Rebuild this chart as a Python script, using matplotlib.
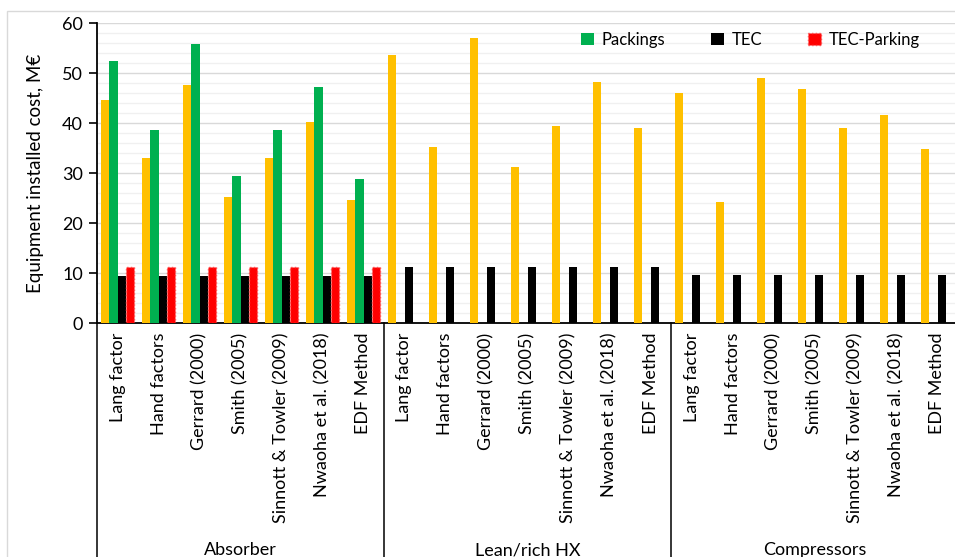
import numpy as np
import matplotlib
matplotlib.use('Agg')
import matplotlib.pyplot as plt
from matplotlib.ticker import MultipleLocator
from matplotlib.patches import Rectangle
from matplotlib.transforms import blended_transform_factory

plt.rcParams['font.family'] = ['Lato', 'DejaVu Sans']

methods = ['Lang factor', 'Hand factors', 'Gerrard (2000)', 'Smith (2005)',
           'Sinnott & Towler (2009)', 'Nwaoha et al. (2018)', 'EDF Method']
groups = ['Absorber', 'Lean/rich HX', 'Compressors']

# equipment cost per method, one list per equipment group (M€)
base_absorber = [44.7, 33.0, 47.7, 25.3, 33.0, 40.3, 24.6]
base_hx = [53.6, 35.2, 57.1, 31.3, 39.5, 48.3, 39.1]
base_comp = [46.1, 24.3, 49.1, 46.8, 39.0, 41.6, 34.9]
packings = [52.5, 38.7, 55.9, 29.5, 38.7, 47.3, 28.8]
tec = [9.5, 11.3, 9.7]
tec_parking = [11.2]

n = len(methods)
base = base_absorber + base_hx + base_comp
pack = packings + [np.nan] * (2 * n)
tec_all = [tec[0]] * n + [tec[1]] * n + [tec[2]] * n
park_all = [tec_parking[0]] * n + [np.nan] * (2 * n)

fig = plt.figure(figsize=(9.55, 5.57), dpi=100)
W, H = 955.0, 557.0
ax = fig.add_axes([97 / W, 1 - 323 / H, 861 / W, 300 / H])

x = np.arange(3 * n)
bw = 0.2
ax.bar(x - 1.5 * bw, base, bw, color='#FFC000', label='_nolegend_', zorder=3)
ax.bar(x - 0.5 * bw, pack, bw, color='#00B050', label='Packings', zorder=3)
ax.bar(x + 0.5 * bw, tec_all, bw, color='#000000', label='TEC', zorder=3)
ax.bar(x + 1.5 * bw, park_all, bw, color='#FF0000', edgecolor='#FF5050',
       linestyle=':', linewidth=1, label='TEC-Parking', zorder=3)

ax.set_xlim(-0.5, 3 * n - 0.5)
ax.set_ylim(0, 60)
ax.yaxis.set_major_locator(MultipleLocator(10))
ax.yaxis.set_minor_locator(MultipleLocator(2))
ax.grid(which='major', axis='y', color='#d9d9d9', linewidth=1, zorder=0)
ax.grid(which='minor', axis='y', color='#f0f0f0', linewidth=1, zorder=0)
ax.tick_params(axis='y', which='major', length=6, width=1.2, labelsize=13, pad=4)
ax.tick_params(axis='y', which='minor', length=0)
ax.set_axisbelow(True)

for side in ['top', 'right']:
    ax.spines[side].set_visible(False)
for side in ['left', 'bottom']:
    ax.spines[side].set_linewidth(1.3)

ax.set_xticks(x)
ax.set_xticklabels(methods * 3, rotation=90, va='top', ha='center', fontsize=13)
ax.tick_params(axis='x', length=0, pad=7)

ax.set_ylabel('Equipment installed cost, M\u20ac', fontsize=13.5, labelpad=13)

# multi-level axis: separators and group names below the method labels
trans = blended_transform_factory(ax.transData, fig.transFigure)
for b in [-0.5, n - 0.5, 2 * n - 0.5, 3 * n - 0.5]:
    ax.plot([b, b], [1 - 323 / H, 0], color='black', linewidth=1.1,
            transform=trans, clip_on=False)
for i, g in enumerate(groups):
    ax.text(i * n + (n - 1) / 2, 7 / H, g, transform=trans, ha='center',
            va='center', fontsize=13)

leg = ax.legend(loc='center left', bbox_to_anchor=(581 / W, 1 - 40 / H),
                bbox_transform=fig.transFigure, ncol=3, frameon=False,
                fontsize=12, handlelength=0.75, handleheight=0.75,
                columnspacing=2.8, handletextpad=0.45, borderpad=0,
                borderaxespad=0)

# light chart frame
fig.add_artist(Rectangle((7 / W, -0.1), 1.1, 1 - 11 / H + 0.1,
                         transform=fig.transFigure, fill=False,
                         edgecolor='#d9d9d9', linewidth=1))

fig.savefig('out.png', dpi=100)
